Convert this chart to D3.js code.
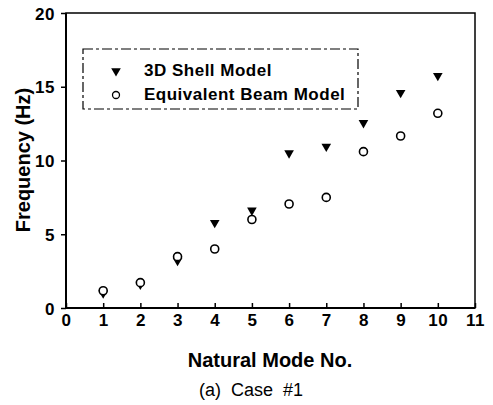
<!DOCTYPE html>
<html><head><meta charset="utf-8">
<script src="https://cdn.jsdelivr.net/npm/d3@7"></script>
<style>body{margin:0;background:#fff}svg{display:block}</style>
</head><body>
<svg id="c" width="493" height="405"></svg>
<script>
const modes = [1,2,3,4,5,6,7,8,9,10];
const shellModel = [1.0,1.6,3.2,5.78,6.62,10.5,10.95,12.55,14.6,15.75];
const beamModel = [1.17,1.72,3.48,4.0,6.0,7.05,7.5,10.6,11.66,13.2];
const xTicks = [0,1,2,3,4,5,6,7,8,9,10,11];
const yTicks = [0,5,10,15,20];
const seriesNames = ["3D Shell Model","Equivalent Beam Model"];

const svg = d3.select("#c");
const L=66, R=475, T=13, B=308;
const x = d3.scaleLinear().domain([0,11]).range([L,R]);
const y = d3.scaleLinear().domain([0,20]).range([B,T]);
const font = "'Liberation Sans', Arial, sans-serif";

// frame
svg.append("rect").attr("x",L).attr("y",T).attr("width",R-L).attr("height",B-T)
  .attr("fill","none").attr("stroke","#000").attr("stroke-width",1.5);
svg.append("line").attr("x1",L).attr("x2",R).attr("y1",B).attr("y2",B).attr("stroke","#000").attr("stroke-width",2);
svg.append("line").attr("x1",L).attr("x2",L).attr("y1",T).attr("y2",B).attr("stroke","#000").attr("stroke-width",2);

// x axis
const xa = svg.append("g").attr("transform",`translate(0,${B})`)
  .call(d3.axisBottom(x).tickValues(xTicks).tickSizeInner(-5).tickSizeOuter(0).tickPadding(0));
xa.select(".domain").remove();
xa.selectAll("line").attr("stroke-width",1.5);
xa.selectAll("text").attr("y",17.5).attr("dy",0).attr("font-family",font).attr("font-weight","bold")
  .attr("font-size",17).attr("letter-spacing",0.5).attr("fill","#000");

// y axis
const ya = svg.append("g").attr("transform",`translate(${L},0)`)
  .call(d3.axisLeft(y).tickValues(yTicks).tickSizeInner(5).tickSizeOuter(0).tickPadding(6));
ya.select(".domain").remove();
ya.selectAll("line").attr("stroke-width",1.5);
ya.selectAll("text").attr("font-family",font).attr("font-weight","bold").attr("font-size",17)
  .attr("letter-spacing",0.5).attr("fill","#000").attr("dy","0.36em");

const tri = d3.symbol().type(d3.symbolTriangle).size(40);
// shell model triangles (down)
svg.append("g").selectAll("path").data(modes).join("path")
  .attr("d",tri).attr("transform",(d,i)=>`translate(${x(d)},${y(shellModel[i])}) rotate(180)`)
  .attr("fill","#000");
// beam circles
svg.append("g").selectAll("circle").data(modes).join("circle")
  .attr("cx",d=>x(d)).attr("cy",(d,i)=>y(beamModel[i])).attr("r",4)
  .attr("fill","#fff").attr("stroke","#000").attr("stroke-width",1.6);

// legend
const lg = svg.append("g");
lg.append("rect").attr("x",83).attr("y",49).attr("width",275).attr("height",60)
  .attr("fill","#fff").attr("stroke","#000").attr("stroke-width",1.2).attr("stroke-dasharray","10,3,3,3");
lg.append("path").attr("d",tri).attr("transform","translate(116,71) rotate(180)").attr("fill","#000");
lg.append("circle").attr("cx",116).attr("cy",95).attr("r",3.5).attr("fill","#fff").attr("stroke","#000").attr("stroke-width",1.3);
lg.selectAll("text").data(seriesNames).join("text")
  .attr("x",144).attr("y",(d,i)=>76+i*24).text(d=>d)
  .attr("font-family",font).attr("font-weight","bold").attr("font-size",17).attr("letter-spacing",0.5).attr("fill","#000");

// axis titles
svg.append("text").attr("transform","translate(30,160) rotate(-90)").attr("text-anchor","middle")
  .attr("font-family",font).attr("font-weight","bold").attr("font-size",20).text("Frequency (Hz)");
svg.append("text").attr("x",270).attr("y",367).attr("text-anchor","middle")
  .attr("font-family",font).attr("font-weight","bold").attr("font-size",20).text("Natural Mode No.");
svg.append("text").attr("x",251).attr("y",396).attr("text-anchor","middle")
  .attr("font-family",font).attr("font-size",18).style("white-space","pre").text("(a)  Case  #1");
</script>
</body></html>
